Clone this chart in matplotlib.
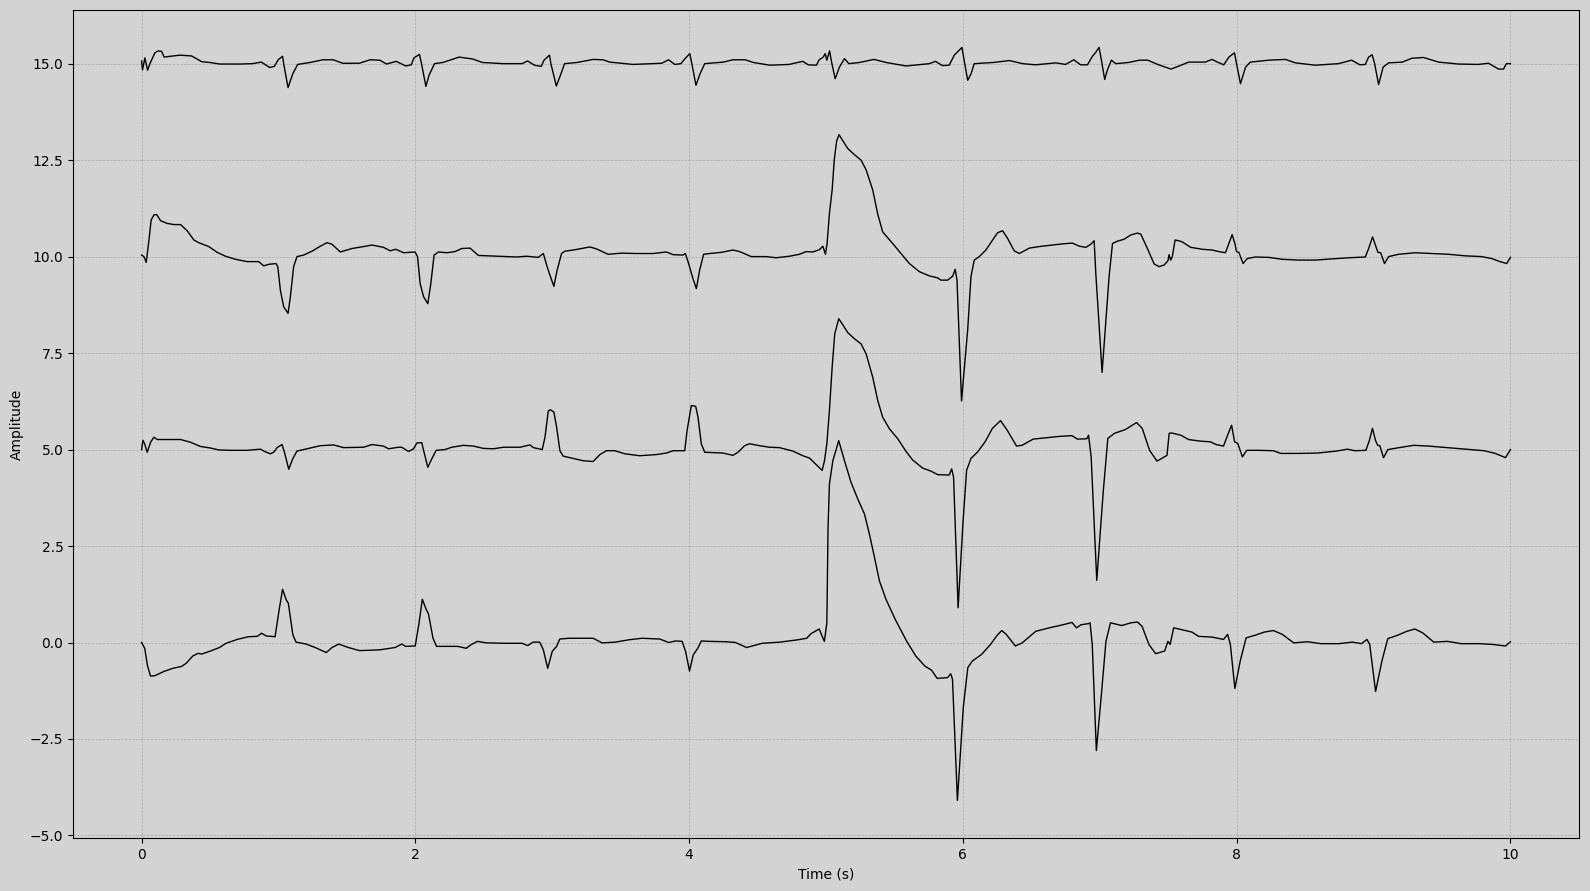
import matplotlib
matplotlib.use("Agg")
import matplotlib.pyplot as plt

# canal 1 (linha base 0)
t_ch1 = [0, 0.023, 0.042, 0.065, 0.097, 0.163, 0.227, 0.292, 0.325, 0.374, 0.413, 0.439, 0.504,
         0.569, 0.617, 0.699, 0.78, 0.845, 0.877, 0.91, 0.975, 1.007, 1.03, 1.056, 1.072, 1.105,
         1.128, 1.202, 1.268, 1.349, 1.391, 1.44, 1.511, 1.592, 1.739, 1.852, 1.901, 1.927, 1.999,
         2.025, 2.051, 2.08, 2.096, 2.129, 2.155, 2.308, 2.372, 2.405, 2.454, 2.519, 2.649, 2.779,
         2.821, 2.86, 2.909, 2.935, 2.967, 3.0, 3.032, 3.055, 3.12, 3.201, 3.299, 3.364, 3.461,
         3.559, 3.656, 3.786, 3.851, 3.9, 3.949, 3.974, 4.003, 4.03, 4.063, 4.089, 4.144, 4.274,
         4.339, 4.42, 4.534, 4.664, 4.794, 4.859, 4.891, 4.95, 4.972, 4.988, 5.006, 5.015, 5.025,
         5.05, 5.093, 5.135, 5.183, 5.232, 5.281, 5.317, 5.354, 5.39, 5.438, 5.507, 5.59, 5.656,
         5.722, 5.772, 5.812, 5.888, 5.911, 5.924, 5.96, 6.003, 6.036, 6.069, 6.136, 6.202, 6.251,
         6.284, 6.317, 6.383, 6.433, 6.532, 6.631, 6.731, 6.797, 6.83, 6.863, 6.919, 6.929, 6.945,
         6.975, 7.012, 7.045, 7.078, 7.161, 7.227, 7.276, 7.309, 7.359, 7.408, 7.474, 7.498, 7.514,
         7.54, 7.59, 7.673, 7.722, 7.821, 7.904, 7.934, 7.954, 7.987, 8.026, 8.069, 8.136, 8.202,
         8.268, 8.334, 8.417, 8.516, 8.615, 8.747, 8.846, 8.912, 8.952, 8.972, 9.015, 9.061, 9.104,
         9.177, 9.243, 9.302, 9.359, 9.44, 9.54, 9.639, 9.771, 9.871, 9.964, 10.0]
v_ch1 = [0.0, -0.15, -0.58, -0.87, -0.86, -0.75, -0.67, -0.62, -0.54, -0.35, -0.28, -0.30, -0.22,
         -0.13, -0.02, 0.08, 0.15, 0.16, 0.24, 0.17, 0.15, 0.89, 1.38, 1.11, 1.02, 0.20,
         0.01, -0.04, -0.13, -0.26, -0.13, -0.04, -0.13, -0.21, -0.19, -0.13, -0.04, -0.10, -0.09,
         0.46, 1.12, 0.85, 0.74, 0.11, -0.10, -0.10, -0.15, -0.06, 0.03, -0.01, -0.02, -0.02,
         -0.08, 0.01, 0.01, -0.19, -0.67, -0.23, -0.10, 0.09, 0.11, 0.11, 0.11, -0.01, 0.01,
         0.07, 0.11, 0.09, 0.0, 0.04, 0.03, -0.23, -0.74, -0.32, -0.15, 0.04, 0.03, 0.02,
         0.0, -0.13, -0.02, 0.01, 0.07, 0.11, 0.23, 0.35, 0.16, 0.03, 0.5, 3.0, 4.11,
         4.71, 5.23, 4.71, 4.15, 3.72, 3.33, 2.81, 2.21, 1.60, 1.12, 0.59, 0.03, -0.35,
         -0.61, -0.72, -0.93, -0.91, -0.81, -0.95, -4.09, -1.68, -0.65, -0.48, -0.31, -0.05, 0.19,
         0.31, 0.21, -0.09, -0.01, 0.29, 0.38, 0.46, 0.52, 0.38, 0.46, 0.49, 0.51, -0.05,
         -2.80, -1.34, 0.03, 0.51, 0.44, 0.51, 0.53, 0.42, -0.05, -0.29, -0.22, 0.03, -0.05,
         0.38, 0.34, 0.27, 0.16, 0.14, 0.08, 0.21, -0.05, -1.19, -0.48, 0.12, 0.19, 0.27,
         0.31, 0.21, -0.01, 0.02, -0.03, -0.03, 0.01, -0.03, 0.08, -0.05, -1.27, -0.48, 0.10,
         0.19, 0.29, 0.35, 0.25, 0.01, 0.03, -0.03, -0.03, -0.05, -0.09, 0.02]

# canal 2 (linha base 5)
t_ch2 = [0.0, 0.01, 0.022, 0.041, 0.066, 0.09, 0.114, 0.187, 0.285, 0.357, 0.43, 0.503, 0.564,
         0.649, 0.771, 0.868, 0.905, 0.941, 0.965, 0.99, 1.026, 1.043, 1.075, 1.104, 1.135, 1.184,
         1.245, 1.306, 1.403, 1.476, 1.622, 1.683, 1.767, 1.804, 1.877, 1.9, 1.95, 1.987, 2.011,
         2.047, 2.06, 2.091, 2.12, 2.152, 2.217, 2.266, 2.351, 2.424, 2.497, 2.57, 2.643, 2.764,
         2.837, 2.862, 2.927, 2.947, 2.971, 2.988, 3.012, 3.032, 3.056, 3.08, 3.153, 3.226, 3.299,
         3.348, 3.396, 3.457, 3.53, 3.639, 3.761, 3.834, 3.883, 3.968, 3.985, 4.016, 4.048, 4.065,
         4.089, 4.114, 4.174, 4.247, 4.32, 4.357, 4.405, 4.442, 4.515, 4.588, 4.66, 4.758, 4.831,
         4.879, 4.928, 4.972, 4.989, 5.006, 5.025, 5.045, 5.064, 5.093, 5.118, 5.159, 5.208, 5.256,
         5.293, 5.341, 5.378, 5.414, 5.463, 5.524, 5.585, 5.633, 5.706, 5.767, 5.816, 5.9, 5.918,
         5.932, 5.965, 6.0, 6.027, 6.059, 6.108, 6.162, 6.216, 6.275, 6.324, 6.392, 6.432, 6.513,
         6.594, 6.702, 6.797, 6.837, 6.905, 6.918, 6.937, 6.978, 7.026, 7.059, 7.107, 7.188, 7.269,
         7.31, 7.364, 7.418, 7.472, 7.491, 7.507, 7.526, 7.594, 7.648, 7.73, 7.809, 7.85, 7.904,
         7.939, 7.963, 7.985, 8.008, 8.042, 8.074, 8.16, 8.268, 8.322, 8.458, 8.593, 8.728, 8.809,
         8.863, 8.944, 8.97, 8.992, 9.014, 9.03, 9.046, 9.073, 9.105, 9.187, 9.294, 9.402, 9.537,
         9.673, 9.808, 9.889, 9.964, 10.0]
v_ch2 = [5.0, 5.24, 5.15, 4.93, 5.19, 5.32, 5.26, 5.26, 5.26, 5.19, 5.08, 5.04, 4.99,
         4.98, 4.98, 5.01, 4.94, 4.89, 4.93, 5.05, 5.13, 4.94, 4.49, 4.76, 4.96, 5.0,
         5.05, 5.10, 5.12, 5.05, 5.06, 5.13, 5.09, 5.02, 5.06, 5.06, 4.95, 5.02, 5.17,
         5.18, 4.98, 4.54, 4.76, 4.98, 5.0, 5.06, 5.11, 5.09, 5.03, 5.02, 5.06, 5.06,
         5.12, 5.05, 5.0, 5.32, 6.0, 6.03, 5.97, 5.58, 4.97, 4.83, 4.77, 4.71, 4.69,
         4.87, 4.97, 4.97, 4.89, 4.84, 4.87, 4.91, 4.97, 4.97, 5.49, 6.14, 6.12, 5.84,
         5.15, 4.93, 4.92, 4.91, 4.85, 4.93, 5.10, 5.15, 5.10, 5.06, 5.05, 4.96, 4.84,
         4.78, 4.61, 4.46, 4.71, 5.15, 6.01, 7.14, 8.0, 8.39, 8.26, 8.03, 7.87, 7.74,
         7.48, 6.88, 6.27, 5.84, 5.54, 5.28, 4.95, 4.73, 4.52, 4.44, 4.35, 4.34, 4.5,
         4.28, 0.90, 3.07, 4.46, 4.77, 4.94, 5.20, 5.55, 5.75, 5.50, 5.09, 5.11, 5.27,
         5.30, 5.34, 5.36, 5.27, 5.28, 5.37, 4.81, 1.61, 3.94, 5.29, 5.42, 5.52, 5.70,
         5.55, 4.98, 4.70, 4.81, 4.85, 5.42, 5.43, 5.37, 5.26, 5.22, 5.20, 5.13, 5.09,
         5.42, 5.63, 5.20, 5.16, 4.81, 4.98, 4.98, 4.97, 4.90, 4.90, 4.91, 4.96, 5.01,
         4.97, 4.98, 5.24, 5.55, 5.24, 5.11, 5.10, 4.79, 5.0, 5.05, 5.11, 5.09, 5.05,
         5.01, 4.97, 4.90, 4.79, 5.0]

# canal 3 (linha base 10)
t_ch3 = [0, 0.017, 0.034, 0.054, 0.07, 0.09, 0.11, 0.139, 0.187, 0.236, 0.285, 0.333, 0.382,
         0.418, 0.491, 0.552, 0.613, 0.686, 0.771, 0.856, 0.892, 0.929, 0.982, 0.995, 1.014, 1.038,
         1.07, 1.087, 1.111, 1.135, 1.184, 1.245, 1.306, 1.354, 1.391, 1.452, 1.537, 1.622, 1.683,
         1.767, 1.816, 1.857, 1.914, 1.998, 2.016, 2.035, 2.06, 2.091, 2.113, 2.137, 2.169, 2.23,
         2.29, 2.339, 2.40, 2.46, 2.594, 2.74, 2.813, 2.898, 2.935, 2.959, 2.983, 3.012, 3.036,
         3.068, 3.092, 3.153, 3.214, 3.275, 3.323, 3.408, 3.506, 3.615, 3.737, 3.834, 3.883, 3.955,
         3.972, 3.992, 4.028, 4.053, 4.077, 4.106, 4.15, 4.235, 4.32, 4.369, 4.454, 4.563, 4.636,
         4.733, 4.806, 4.855, 4.904, 4.952, 4.977, 4.996, 5.008, 5.025, 5.045, 5.06, 5.078, 5.095,
         5.118, 5.159, 5.208, 5.256, 5.293, 5.341, 5.378, 5.414, 5.487, 5.536, 5.609, 5.682, 5.755,
         5.815, 5.84, 5.888, 5.925, 5.944, 5.957, 5.99, 6.035, 6.059, 6.083, 6.12, 6.168, 6.217,
         6.254, 6.29, 6.327, 6.375, 6.412, 6.485, 6.557, 6.63, 6.728, 6.80, 6.85, 6.898, 6.934,
         6.959, 6.971, 7.017, 7.068, 7.093, 7.129, 7.178, 7.226, 7.275, 7.3, 7.348, 7.397, 7.433,
         7.469, 7.498, 7.506, 7.518, 7.53, 7.55, 7.578, 7.603, 7.664, 7.749, 7.822, 7.87, 7.918,
         7.943, 7.967, 7.987, 7.999, 8.016, 8.047, 8.077, 8.137, 8.235, 8.332, 8.453, 8.575, 8.696,
         8.818, 8.94, 8.964, 8.993, 9.017, 9.032, 9.052, 9.08, 9.11, 9.183, 9.304, 9.426, 9.547,
         9.669, 9.79, 9.863, 9.924, 9.973, 10.0]
v_ch3 = [10.04, 10.0, 9.85, 10.43, 10.95, 11.08, 11.09, 10.93, 10.86, 10.83, 10.83, 10.67, 10.43,
         10.36, 10.26, 10.11, 10.01, 9.93, 9.87, 9.87, 9.76, 9.80, 9.82, 9.74, 9.13, 8.70,
         8.53, 8.96, 9.74, 10.0, 10.04, 10.14, 10.27, 10.36, 10.32, 10.12, 10.21, 10.26, 10.30,
         10.24, 10.15, 10.19, 10.10, 10.12, 10.0, 9.30, 8.96, 8.78, 9.30, 10.04, 10.12, 10.10,
         10.13, 10.21, 10.22, 10.03, 10.01, 9.99, 10.01, 9.98, 10.08, 9.78, 9.52, 9.23, 9.65,
         10.08, 10.14, 10.17, 10.21, 10.25, 10.20, 10.06, 10.09, 10.08, 10.08, 10.12, 10.05, 10.04,
         10.08, 9.87, 9.43, 9.17, 9.65, 10.06, 10.08, 10.11, 10.17, 10.13, 10.0, 10.0, 9.97,
         10.01, 10.06, 10.13, 10.12, 10.18, 10.27, 10.06, 10.34, 11.12, 11.73, 12.5, 13.0, 13.16,
         13.03, 12.8, 12.64, 12.5, 12.25, 11.73, 11.1, 10.64, 10.34, 10.13, 9.82, 9.61, 9.50,
         9.45, 9.39, 9.39, 9.49, 9.67, 9.39, 6.26, 8.1, 9.48, 9.91, 10.0, 10.17, 10.43,
         10.62, 10.67, 10.47, 10.15, 10.08, 10.22, 10.26, 10.29, 10.33, 10.35, 10.27, 10.24, 10.32,
         10.41, 9.56, 7.0, 9.48, 10.34, 10.40, 10.45, 10.56, 10.61, 10.58, 10.21, 9.81, 9.74,
         9.78, 9.89, 10.05, 9.91, 10.0, 10.43, 10.41, 10.38, 10.24, 10.19, 10.17, 10.13, 10.10,
         10.34, 10.57, 10.34, 10.13, 10.11, 9.82, 9.95, 9.99, 9.98, 9.93, 9.91, 9.91, 9.94,
         9.97, 9.99, 10.21, 10.51, 10.26, 10.11, 10.10, 9.82, 10.0, 10.06, 10.10, 10.08, 10.06,
         10.02, 10.0, 9.95, 9.87, 9.82, 9.98]

# canal 4 (linha base 15)
t_ch4 = [0, 0.007, 0.024, 0.044, 0.061, 0.097, 0.12, 0.146, 0.165, 0.207, 0.28, 0.365, 0.44,
         0.50, 0.57, 0.72, 0.81, 0.875, 0.936, 0.97, 1.0, 1.03, 1.04, 1.07, 1.105, 1.14,
         1.23, 1.325, 1.40, 1.47, 1.59, 1.67, 1.74, 1.79, 1.86, 1.93, 1.97, 1.99, 2.03,
         2.045, 2.077, 2.10, 2.14, 2.20, 2.32, 2.42, 2.49, 2.64, 2.78, 2.82, 2.87, 2.92,
         2.94, 2.98, 2.99, 3.03, 3.06, 3.09, 3.18, 3.30, 3.37, 3.42, 3.59, 3.80, 3.85,
         3.895, 3.94, 3.975, 4.005, 4.02, 4.05, 4.08, 4.114, 4.25, 4.32, 4.41, 4.47, 4.59,
         4.73, 4.83, 4.87, 4.93, 4.95, 4.98, 4.994, 5.006, 5.026, 5.043, 5.067, 5.098, 5.135,
         5.167, 5.244, 5.35, 5.44, 5.585, 5.755, 5.80, 5.85, 5.90, 5.937, 5.993, 6.005, 6.035,
         6.06, 6.083, 6.22, 6.34, 6.436, 6.53, 6.68, 6.75, 6.81, 6.86, 6.91, 6.946, 6.97,
         6.995, 7.012, 7.036, 7.056, 7.085, 7.116, 7.21, 7.29, 7.35, 7.43, 7.52, 7.58, 7.65,
         7.77, 7.82, 7.86, 7.906, 7.943, 7.984, 7.999, 8.028, 8.065, 8.10, 8.235, 8.356, 8.43,
         8.575, 8.745, 8.84, 8.90, 8.94, 8.964, 8.99, 9.008, 9.037, 9.07, 9.11, 9.21, 9.28,
         9.365, 9.475, 9.62, 9.765, 9.84, 9.913, 9.95, 9.97, 10.0]
v_ch4 = [15.07, 14.84, 15.15, 14.83, 15.0, 15.28, 15.33, 15.32, 15.17, 15.19, 15.22, 15.2, 15.05,
         15.03, 14.99, 14.99, 15.0, 15.04, 14.9, 14.93, 15.11, 15.19, 14.96, 14.38, 14.74, 14.98,
         15.03, 15.1, 15.1, 15.01, 15.01, 15.1, 15.09, 14.99, 15.06, 14.94, 14.97, 15.15, 15.24,
         15.0, 14.41, 14.7, 15.0, 15.03, 15.17, 15.12, 15.03, 15.0, 15.0, 15.07, 14.96, 14.93,
         15.09, 15.22, 15.0, 14.42, 14.7, 15.0, 15.03, 15.11, 15.1, 15.04, 14.98, 15.01, 15.1,
         14.98, 15.0, 15.15, 15.26, 15.0, 14.44, 14.74, 15.0, 15.04, 15.1, 15.1, 15.03, 14.96,
         14.98, 15.06, 14.97, 14.96, 15.1, 15.17, 15.26, 15.09, 15.33, 15.0, 14.61, 14.91, 15.13,
         15.0, 15.03, 15.11, 15.03, 14.94, 15.0, 15.06, 14.95, 14.96, 15.22, 15.42, 15.17, 14.57,
         14.74, 15.0, 15.03, 15.08, 15.0, 14.97, 15.02, 14.98, 15.1, 14.97, 14.97, 15.19, 15.29,
         15.42, 15.09, 14.59, 14.84, 15.09, 15.0, 15.03, 15.09, 15.09, 14.97, 14.86, 14.94, 15.04,
         15.04, 15.11, 15.04, 14.97, 15.17, 15.28, 15.0, 14.48, 14.91, 15.04, 15.09, 15.11, 15.02,
         14.96, 15.0, 15.09, 14.97, 14.98, 15.17, 15.23, 15.0, 14.46, 14.91, 15.02, 15.04, 15.14,
         15.16, 15.04, 14.99, 14.98, 15.01, 14.86, 14.86, 15.0, 15.0]

canais = [(t_ch1, v_ch1), (t_ch2, v_ch2), (t_ch3, v_ch3), (t_ch4, v_ch4)]

fig, ax = plt.subplots(figsize=(15.9, 8.91), dpi=100)
fig.patch.set_facecolor("lightgray")
ax.set_facecolor("lightgray")

for t, v in canais:
    ax.plot(t, v, color="black", linewidth=1.0)

ax.grid(True, color="gray", linestyle="--", linewidth=0.5, alpha=0.5)
ax.set_xlabel("Time (s)")
ax.set_ylabel("Amplitude")

plt.subplots_adjust(left=0.046, right=0.993, top=0.989, bottom=0.0595)
plt.savefig("out.png", dpi=100, facecolor=fig.get_facecolor())
